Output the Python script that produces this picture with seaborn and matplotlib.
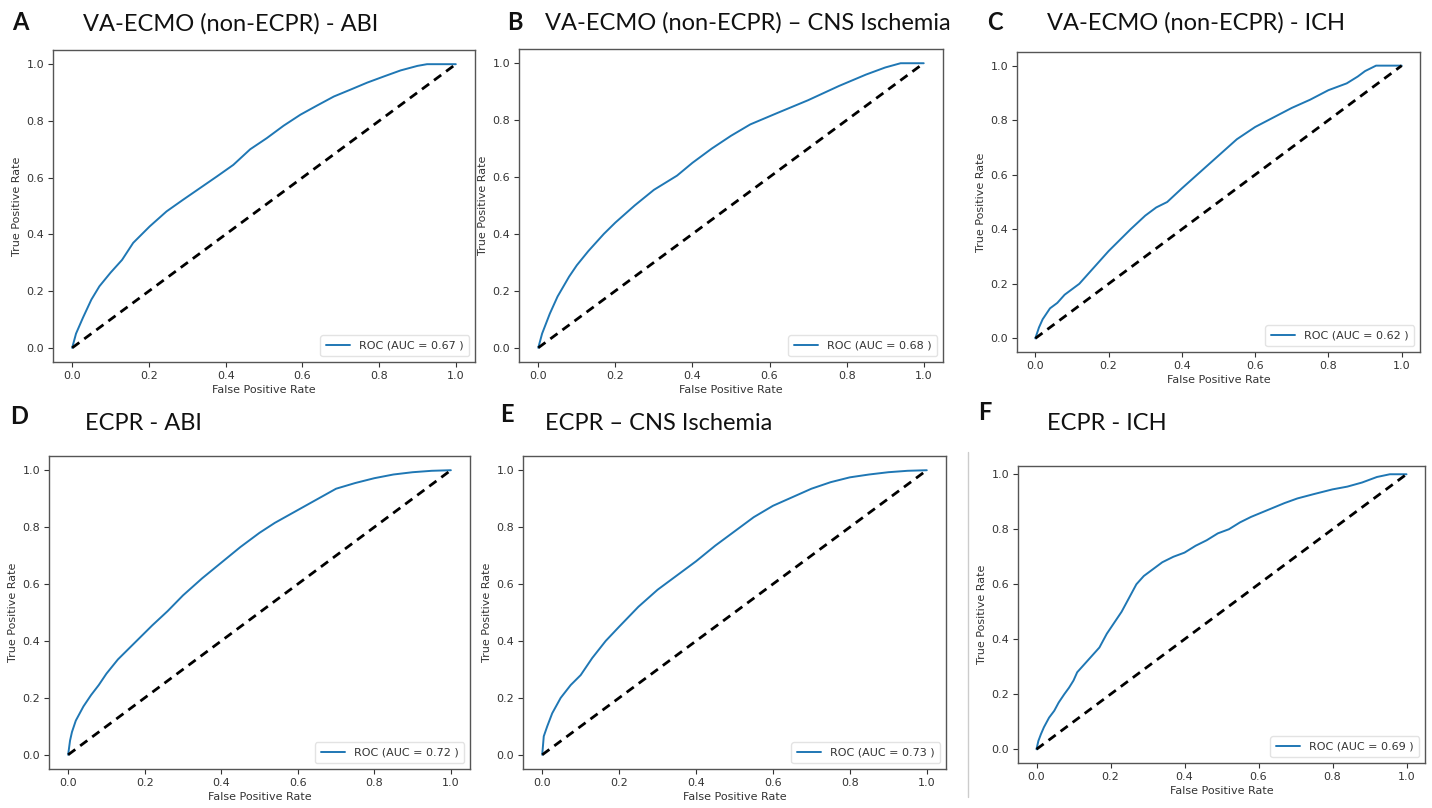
import matplotlib
matplotlib.use("Agg")
import matplotlib.pyplot as plt
from matplotlib.lines import Line2D
import seaborn as sns
import pandas as pd

# ---------------- data ----------------
titles = ["VA-ECMO (non-ECPR) - ABI", "VA-ECMO (non-ECPR) \u2013 CNS Ischemia",
          "VA-ECMO (non-ECPR) - ICH", "ECPR - ABI", "ECPR \u2013 CNS Ischemia", "ECPR - ICH"]
letters = ["A", "B", "C", "D", "E", "F"]
auc_values = ["0.67", "0.68", "0.62", "0.72", "0.73", "0.69"]

fpr_A = [0, 0.01, 0.028, 0.05, 0.071, 0.10, 0.13, 0.159, 0.202, 0.246, 0.289, 0.333, 0.377,
         0.42, 0.464, 0.507, 0.551, 0.595, 0.638, 0.682, 0.725, 0.769, 0.813, 0.856, 0.90,
         0.925, 0.96, 1.0]
tpr_A = [0, 0.05, 0.106, 0.17, 0.217, 0.265, 0.31, 0.37, 0.428, 0.481, 0.522, 0.563, 0.604,
         0.645, 0.70, 0.739, 0.783, 0.822, 0.854, 0.886, 0.91, 0.935, 0.957, 0.978, 0.994,
         1.0, 1.0, 1.0]

fpr_B = [0, 0.01, 0.03, 0.05, 0.08, 0.10, 0.13, 0.17, 0.20, 0.25, 0.30, 0.36, 0.40, 0.45,
         0.50, 0.55, 0.62, 0.70, 0.78, 0.85, 0.90, 0.94, 1.0]
tpr_B = [0, 0.05, 0.12, 0.18, 0.25, 0.29, 0.34, 0.40, 0.44, 0.50, 0.555, 0.605, 0.65, 0.70,
         0.745, 0.785, 0.825, 0.87, 0.92, 0.96, 0.985, 1.0, 1.0]

fpr_C = [0, 0.01, 0.02, 0.04, 0.06, 0.08, 0.10, 0.12, 0.15, 0.18, 0.20, 0.23, 0.26, 0.30,
         0.33, 0.36, 0.40, 0.45, 0.50, 0.55, 0.60, 0.65, 0.70, 0.75, 0.80, 0.85, 0.88,
         0.90, 0.93, 1.0]
tpr_C = [0, 0.04, 0.07, 0.11, 0.13, 0.16, 0.18, 0.20, 0.245, 0.29, 0.32, 0.36, 0.40, 0.45,
         0.48, 0.50, 0.55, 0.61, 0.67, 0.73, 0.775, 0.81, 0.845, 0.875, 0.91, 0.935, 0.96,
         0.98, 1.0, 1.0]

fpr_D = [0, 0.005, 0.01, 0.02, 0.04, 0.06, 0.08, 0.10, 0.13, 0.16, 0.19, 0.22, 0.26, 0.30,
         0.35, 0.40, 0.45, 0.50, 0.54, 0.58, 0.62, 0.66, 0.70, 0.75, 0.80, 0.85, 0.90,
         0.95, 1.0]
tpr_D = [0, 0.05, 0.08, 0.12, 0.17, 0.21, 0.245, 0.285, 0.335, 0.375, 0.415, 0.455, 0.505,
         0.56, 0.62, 0.675, 0.73, 0.78, 0.815, 0.845, 0.875, 0.905, 0.935, 0.955, 0.972,
         0.985, 0.993, 0.998, 1.0]

fpr_E = [0, 0.004, 0.013, 0.026, 0.048, 0.074, 0.10, 0.13, 0.165, 0.20, 0.25, 0.30, 0.35,
         0.40, 0.45, 0.50, 0.55, 0.60, 0.65, 0.70, 0.75, 0.80, 0.85, 0.90, 0.95, 1.0]
tpr_E = [0, 0.065, 0.10, 0.146, 0.20, 0.245, 0.28, 0.34, 0.40, 0.45, 0.52, 0.58, 0.63,
         0.68, 0.735, 0.785, 0.835, 0.875, 0.905, 0.935, 0.958, 0.975, 0.985, 0.993, 0.998, 1.0]

fpr_F = [0, 0.005, 0.012, 0.02, 0.034, 0.048, 0.06, 0.075, 0.088, 0.10, 0.11, 0.13, 0.15,
         0.17, 0.19, 0.21, 0.23, 0.25, 0.27, 0.29, 0.31, 0.34, 0.37, 0.40, 0.43, 0.46, 0.49,
         0.52, 0.55, 0.58, 0.625, 0.67, 0.705, 0.75, 0.80, 0.84, 0.88, 0.92, 0.955, 1.0]
tpr_F = [0, 0.03, 0.055, 0.08, 0.115, 0.14, 0.17, 0.20, 0.224, 0.25, 0.28, 0.31, 0.34,
         0.37, 0.42, 0.46, 0.50, 0.55, 0.60, 0.63, 0.65, 0.68, 0.70, 0.715, 0.74, 0.76,
         0.785, 0.80, 0.825, 0.845, 0.87, 0.895, 0.912, 0.928, 0.945, 0.955, 0.97, 0.99,
         1.0, 1.0]

chance_x = [0.0, 1.0]
chance_y = [0.0, 1.0]
tick_values = [0.0, 0.2, 0.4, 0.6, 0.8, 1.0]
tick_labels = ["0.0", "0.2", "0.4", "0.6", "0.8", "1.0"]

curves = [(fpr_A, tpr_A), (fpr_B, tpr_B), (fpr_C, tpr_C),
          (fpr_D, tpr_D), (fpr_E, tpr_E), (fpr_F, tpr_F)]

# ---------------- layout (pixels) ----------------
W, H = 1432, 808
boxes = [(53, 50, 475, 362), (519, 49, 943, 362), (1017, 52, 1420, 352),
         (49, 456, 470, 769), (523, 456, 946, 769), (1018, 466, 1425, 763)]
ylims = [(-0.05, 1.05)] * 5 + [(-0.05, 1.03)]
letter_pos = [(12, 22), (507, 22), (987, 22), (10, 416), (500, 414), (978, 412)]
title_pos = [(83, 24), (545, 23), (1047, 23), (85, 424), (545, 424), (1047, 424)]

sns.set_style("white")
plt.rcParams["font.family"] = ["DejaVu Sans"]

fig = plt.figure(figsize=(W / 100, H / 100), dpi=100)
fig.patch.set_facecolor("white")

text_col = "#333333"
fs = 8
for i, (fpr, tpr) in enumerate(curves):
    x0, y0, x1, y1 = boxes[i]
    ax = fig.add_axes([x0 / W, 1 - y1 / H, (x1 - x0) / W, (y1 - y0) / H])
    df = pd.DataFrame({"fpr": fpr, "tpr": tpr})
    sns.lineplot(data=df, x="fpr", y="tpr", ax=ax, color="#1f77b4", lw=1.4,
                 sort=False, estimator=None, label=f"ROC (AUC = {auc_values[i]} )")
    dfc = pd.DataFrame({"x": chance_x, "y": chance_y})
    sns.lineplot(data=dfc, x="x", y="y", ax=ax, color="black", lw=2.0,
                 linestyle=(0, (3.2, 2.2)), sort=False, estimator=None)
    ax.set_xlim(-0.05, 1.05)
    ax.set_ylim(*ylims[i])
    ax.set_xticks(tick_values)
    ax.set_xticklabels(tick_labels)
    ax.set_yticks(tick_values)
    ax.set_yticklabels(tick_labels)
    ax.tick_params(axis="both", labelsize=fs, colors=text_col, length=3.5, width=0.8,
                   direction="out", bottom=True, left=True, pad=3)
    ax.set_xlabel("False Positive Rate", fontsize=fs, color=text_col, labelpad=3)
    ax.set_ylabel("True Positive Rate", fontsize=fs, color=text_col, labelpad=3)
    for sp in ax.spines.values():
        sp.set_color("#555555")
        sp.set_linewidth(1.0)
    leg = ax.legend(handles=[Line2D([0], [0], color="#1f77b4", lw=1.4)],
                    labels=[f"ROC (AUC = {auc_values[i]} )"], loc="lower right",
                    fontsize=fs, frameon=True, fancybox=True, framealpha=0.8,
                    borderpad=0.5, handlelength=2.2)
    leg.get_frame().set_edgecolor("#dddddd")
    for t in leg.get_texts():
        t.set_color(text_col)

    lx, ly = letter_pos[i]
    fig.text(lx / W, 1 - ly / H, letters[i], fontsize=17, fontweight="bold",
             family=["Lato", "DejaVu Sans"], va="center", ha="left", color="#111111")
    tx, ty = title_pos[i]
    fig.text(tx / W, 1 - ty / H, titles[i], fontsize=17,
             family=["Lato", "DejaVu Sans"], va="center", ha="left", color="#111111")

# thin separator line left of panel F
fig.add_artist(Line2D([968 / W, 968 / W], [1 - 452 / H, 1 - 797 / H],
                      color="#cccccc", lw=1.0, transform=fig.transFigure))

fig.savefig("out.png", dpi=100, facecolor="white")
